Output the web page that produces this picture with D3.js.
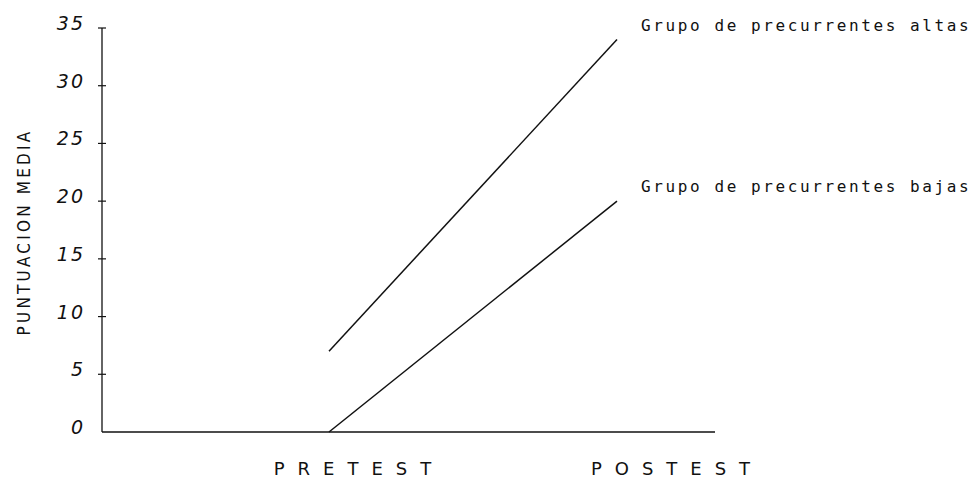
<!DOCTYPE html>
<html><head><meta charset="utf-8">
<script src="https://cdn.jsdelivr.net/npm/d3@7"></script>
<style>
html,body{margin:0;padding:0;background:#fff;}
svg{display:block;}
</style></head>
<body>
<svg id="chart" width="972" height="479"></svg>
<script>
const categories = ["PRETEST", "POSTEST"];
const seriesNames = ["Grupo de precurrentes altas", "Grupo de precurrentes bajas"];
const altas = [7, 34];
const bajas = [0, 20];
const yTicks = [0, 5, 10, 15, 20, 25, 30, 35];
const yTitle = "PUNTUACION MEDIA";

const svg = d3.select("#chart");
const ink = "#111";

const x = d3.scalePoint().domain(categories).range([329, 617]);
const y = d3.scaleLinear().domain([0, 35]).range([432, 28]);
const axisX = 102;

// axes
svg.append("line").attr("x1", axisX).attr("x2", axisX).attr("y1", y(35)).attr("y2", y(0))
  .attr("stroke", ink).attr("stroke-width", 1.3);
svg.append("line").attr("x1", axisX).attr("x2", 715).attr("y1", y(0)).attr("y2", y(0))
  .attr("stroke", ink).attr("stroke-width", 1.3);

const yAxis = svg.append("g");
yAxis.selectAll("line.tick").data(yTicks.filter(d => d > 0)).join("line")
  .attr("x1", axisX - 4).attr("x2", axisX + 4).attr("y1", d => y(d)).attr("y2", d => y(d))
  .attr("stroke", ink).attr("stroke-width", 1.2);
yAxis.selectAll("text").data(yTicks).join("text")
  .attr("x", axisX - 17).attr("y", d => y(d) + 2)
  .attr("text-anchor", "end")
  .attr("font-family", "DejaVu Sans, sans-serif")
  .attr("font-style", "italic")
  .attr("font-size", 19)
  .attr("letter-spacing", 2)
  .attr("fill", ink)
  .text(d => d);

// y title
svg.append("text")
  .attr("transform", `translate(30, 232) rotate(-90)`)
  .attr("text-anchor", "middle")
  .attr("font-family", "DejaVu Sans Condensed, DejaVu Sans, sans-serif")
  .attr("font-size", 17)
  .attr("letter-spacing", 3.2)
  .attr("fill", ink)
  .text(yTitle);

// x labels
const xOffsets = [30, 60];
svg.selectAll("text.xlab").data(categories).join("text")
  .attr("class", "xlab")
  .attr("x", (d, i) => x(d) + xOffsets[i])
  .attr("y", 475)
  .attr("text-anchor", "middle")
  .attr("font-family", "DejaVu Sans, sans-serif")
  .attr("font-size", 18)
  .attr("letter-spacing", 13)
  .attr("fill", ink)
  .text(d => d);

// lines
const line = d3.line().x((d, i) => x(categories[i])).y(d => y(d));
const series = [altas, bajas];
svg.selectAll("path.series").data(series).join("path")
  .attr("class", "series")
  .attr("d", d => line(d))
  .attr("fill", "none")
  .attr("stroke", ink)
  .attr("stroke-width", 1.5);

// series labels
const labelYOffset = [-9, -9];
svg.selectAll("text.slab").data(series).join("text")
  .attr("class", "slab")
  .attr("x", x(categories[1]) + 24)
  .attr("y", (d, i) => y(d[1]) + labelYOffset[i])
  .attr("font-family", "DejaVu Sans Mono, monospace")
  .attr("font-size", 16)
  .attr("letter-spacing", 2.6)
  .attr("fill", ink)
  .text((d, i) => seriesNames[i]);
</script>
</body></html>
